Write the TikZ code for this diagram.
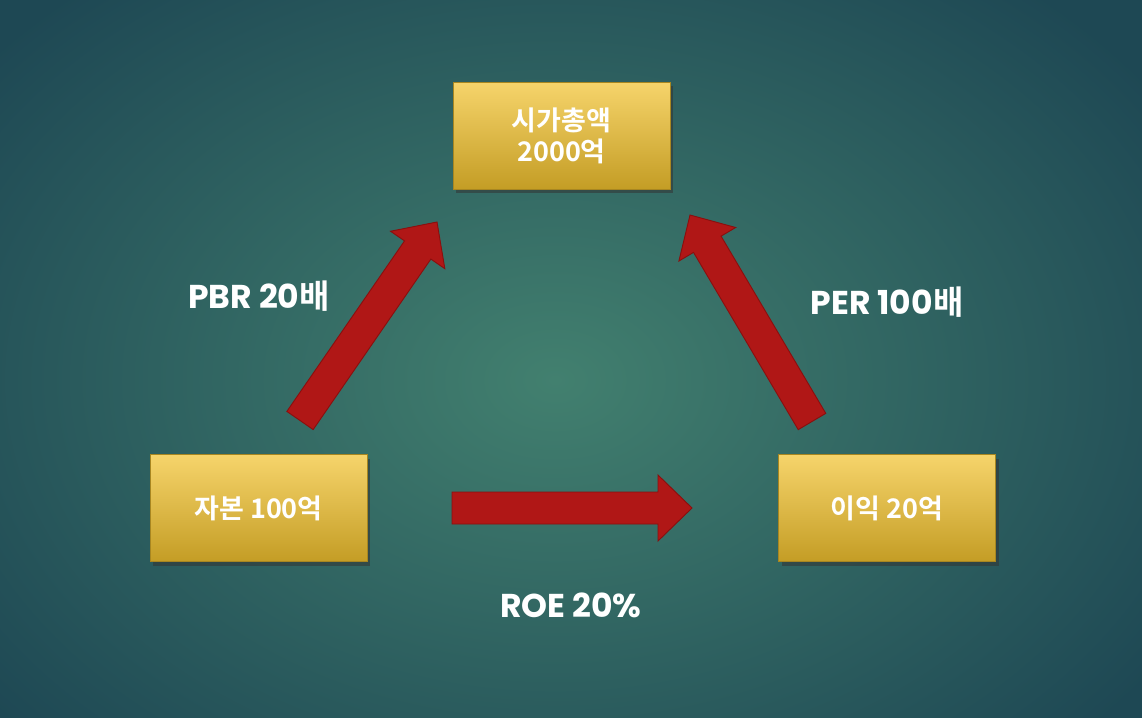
\documentclass[tikz,border=0pt]{standalone}
\usepackage{fontspec}
\newfontfamily\kr{Noto Sans CJK KR}[BoldFont={* Bold}]
\newfontfamily\pop{Poppins}
\usetikzlibrary{calc,shadows}
\definecolor{bgin}{HTML}{42806F}
\definecolor{bgout}{HTML}{1E4854}
\definecolor{goldtop}{HTML}{F6D46B}
\definecolor{goldbot}{HTML}{C49D25}
\definecolor{goldedge}{HTML}{A88620}
\definecolor{arrfill}{HTML}{B01716}
\definecolor{arredge}{HTML}{8A0F0E}
\tikzset{
  goldbox/.style={minimum width=217pt, minimum height=107pt, inner sep=0pt,
    top color=goldtop, bottom color=goldbot, draw=goldedge, line width=0.6pt,
    text=white, align=center, font=\kr\bfseries\fontsize{27}{31}\selectfont,
    drop shadow={shadow xshift=3pt, shadow yshift=-4pt, opacity=0.55, fill=black!80}},
  lbl/.style={text=white, inner sep=0pt, font=\pop\bfseries\fontsize{33}{38}\selectfont},
  blockarrow/.style={fill=arrfill, draw=arredge, line width=0.9pt, line join=miter}
}
\newcommand{\blockarr}[2]{%
  \coordinate (hb) at ($(#2)!34pt!(#1)$);
  \path[blockarrow]
    ($(#1)!16pt!90:(#2)$) -- ($(hb)!16pt!-90:(#1)$) -- ($(hb)!33pt!-90:(#1)$) --
    (#2) -- ($(hb)!33pt!90:(#1)$) -- ($(hb)!16pt!90:(#1)$) -- ($(#1)!16pt!-90:(#2)$) -- cycle;
}
\begin{document}
\begin{tikzpicture}[x=1pt,y=-1pt]
\useasboundingbox (0,0) rectangle (1142,717);
\shade[inner color=bgin, outer color=bgout] (-170,-140) rectangle (1280,900);
\node[goldbox] (top) at (561.5,135.5) {시가총액\\2000억};
\node[goldbox] (left) at (258.5,508) {자본 100억};
\node[goldbox] (right) at (887,508) {이익 20억};
\coordinate (t1) at (300,420.5);
\coordinate (h1) at (437,222);
\coordinate (t2) at (812,421.5);
\coordinate (h2) at (690,215);
\coordinate (t3) at (452,508);
\coordinate (h3) at (692,508);
\blockarr{t1}{h1}
\blockarr{t2}{h2}
\blockarr{t3}{h3}
\node[lbl] (pbr) at (259,296) {PBR 20{\kr\bfseries 배}};
\node[lbl] (per) at (887,302) {PER 100{\kr\bfseries 배}};
\node[lbl] (roe) at (571,605) {ROE 20\%};
\end{tikzpicture}
\end{document}
